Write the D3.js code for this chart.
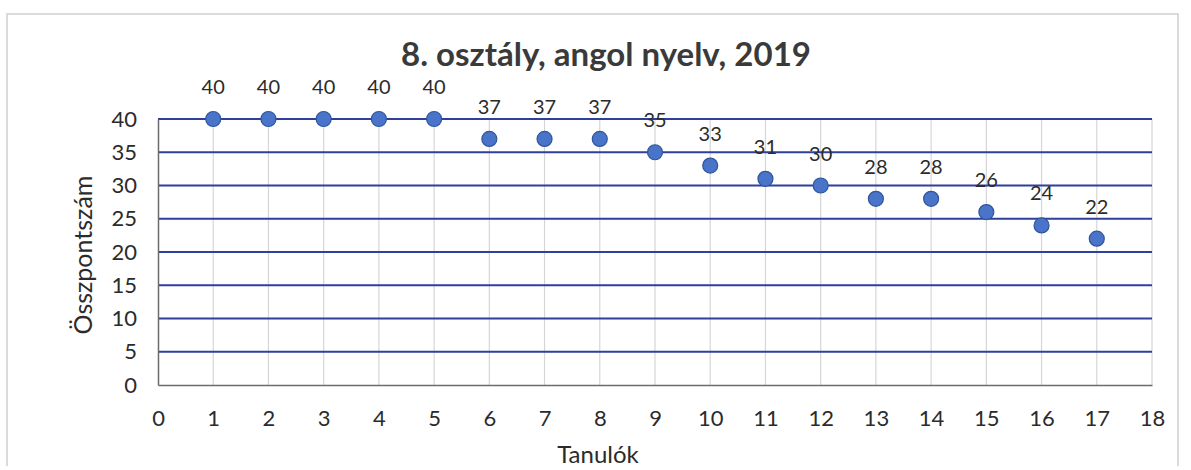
<!DOCTYPE html>
<html>
<head>
<meta charset="utf-8">
<script src="https://cdn.jsdelivr.net/npm/d3@7/dist/d3.min.js"></script>
<style>
  html, body { margin: 0; padding: 0; background: #fff; }
  svg { display: block; }
  text { font-family: Lato, "Open Sans", sans-serif; }
</style>
</head>
<body>
<svg id="chart" width="1191" height="470"></svg>
<script>
const titleText = "8. osztály, angol nyelv, 2019";
const xTitle = "Tanulók";
const yTitle = "Összpontszám";
const students = [1, 2, 3, 4, 5, 6, 7, 8, 9, 10, 11, 12, 13, 14, 15, 16, 17];
const scores = [40, 40, 40, 40, 40, 37, 37, 37, 35, 33, 31, 30, 28, 28, 26, 24, 22];
const xTicks = [0, 1, 2, 3, 4, 5, 6, 7, 8, 9, 10, 11, 12, 13, 14, 15, 16, 17, 18];
const yTicks = [0, 5, 10, 15, 20, 25, 30, 35, 40];

const svg = d3.select("#chart");
const plot = { left: 158, right: 1152, top: 119, bottom: 385 };

const x = d3.scaleLinear().domain([0, 18]).range([plot.left, plot.right]);
const y = d3.scaleLinear().domain([0, 40]).range([plot.bottom, plot.top]);

// chart frame
svg.append("path")
  .attr("d", `M7,466 L7,14 L1178,14 L1178,466`)
  .attr("fill", "none").attr("stroke", "#d0d0d0").attr("stroke-width", 1.5);

// vertical gridlines
svg.append("g")
  .selectAll("line").data(xTicks.filter(d => d > 0)).join("line")
  .attr("x1", d => x(d)).attr("x2", d => x(d))
  .attr("y1", plot.top).attr("y2", plot.bottom)
  .attr("stroke", "#d6d6d6").attr("stroke-width", 1.2);

// horizontal gridlines
svg.append("g")
  .selectAll("line").data(yTicks.filter(d => d > 0)).join("line")
  .attr("x1", plot.left).attr("x2", plot.right)
  .attr("y1", d => y(d)).attr("y2", d => y(d))
  .attr("stroke", "#2f3f9c").attr("stroke-width", 2);

// axes
const xAxis = d3.axisBottom(x).tickValues(xTicks).tickSize(0).tickPadding(25).tickFormat(d3.format("d"));
const yAxis = d3.axisLeft(y).tickValues(yTicks).tickSize(0).tickPadding(21).tickFormat(d3.format("d"));

const gx = svg.append("g").attr("transform", `translate(0,${plot.bottom})`).call(xAxis);
gx.select(".domain").attr("stroke", "#6b6b6b").attr("stroke-width", 1.5);
gx.selectAll("text").attr("font-size", 22).attr("fill", "#2b2b2b").attr("font-family", "Lato, sans-serif");

const gy = svg.append("g").attr("transform", `translate(${plot.left},0)`).call(yAxis);
gy.select(".domain").attr("stroke", "#6b6b6b").attr("stroke-width", 1.5);
gy.selectAll("text").attr("font-size", 22).attr("fill", "#2b2b2b").attr("font-family", "Lato, sans-serif");

// points
svg.append("g")
  .selectAll("circle").data(students).join("circle")
  .attr("cx", (d) => x(d))
  .attr("cy", (d, i) => y(scores[i]))
  .attr("r", 7.5)
  .attr("fill", "#4a74c9")
  .attr("stroke", "#2f559a").attr("stroke-width", 1.2);

// data labels
svg.append("g")
  .selectAll("text").data(students).join("text")
  .attr("x", d => x(d))
  .attr("y", (d, i) => y(scores[i]) - 25)
  .attr("text-anchor", "middle")
  .attr("font-size", 20)
  .attr("fill", "#2b2b2b")
  .text((d, i) => scores[i]);

// title
svg.append("text")
  .attr("x", 606).attr("y", 66)
  .attr("text-anchor", "middle")
  .attr("font-size", 33)
  .attr("font-weight", 700)
  .attr("fill", "#3a3a3a")
  .text(titleText);

// axis titles
svg.append("text")
  .attr("x", 598).attr("y", 463)
  .attr("text-anchor", "middle")
  .attr("font-size", 24)
  .attr("fill", "#2b2b2b")
  .text(xTitle);

svg.append("text")
  .attr("transform", `translate(92,${(plot.top + plot.bottom) / 2 + 3}) rotate(-90)`)
  .attr("text-anchor", "middle")
  .attr("font-size", 25)
  .attr("fill", "#2b2b2b")
  .text(yTitle);
</script>
</body>
</html>
